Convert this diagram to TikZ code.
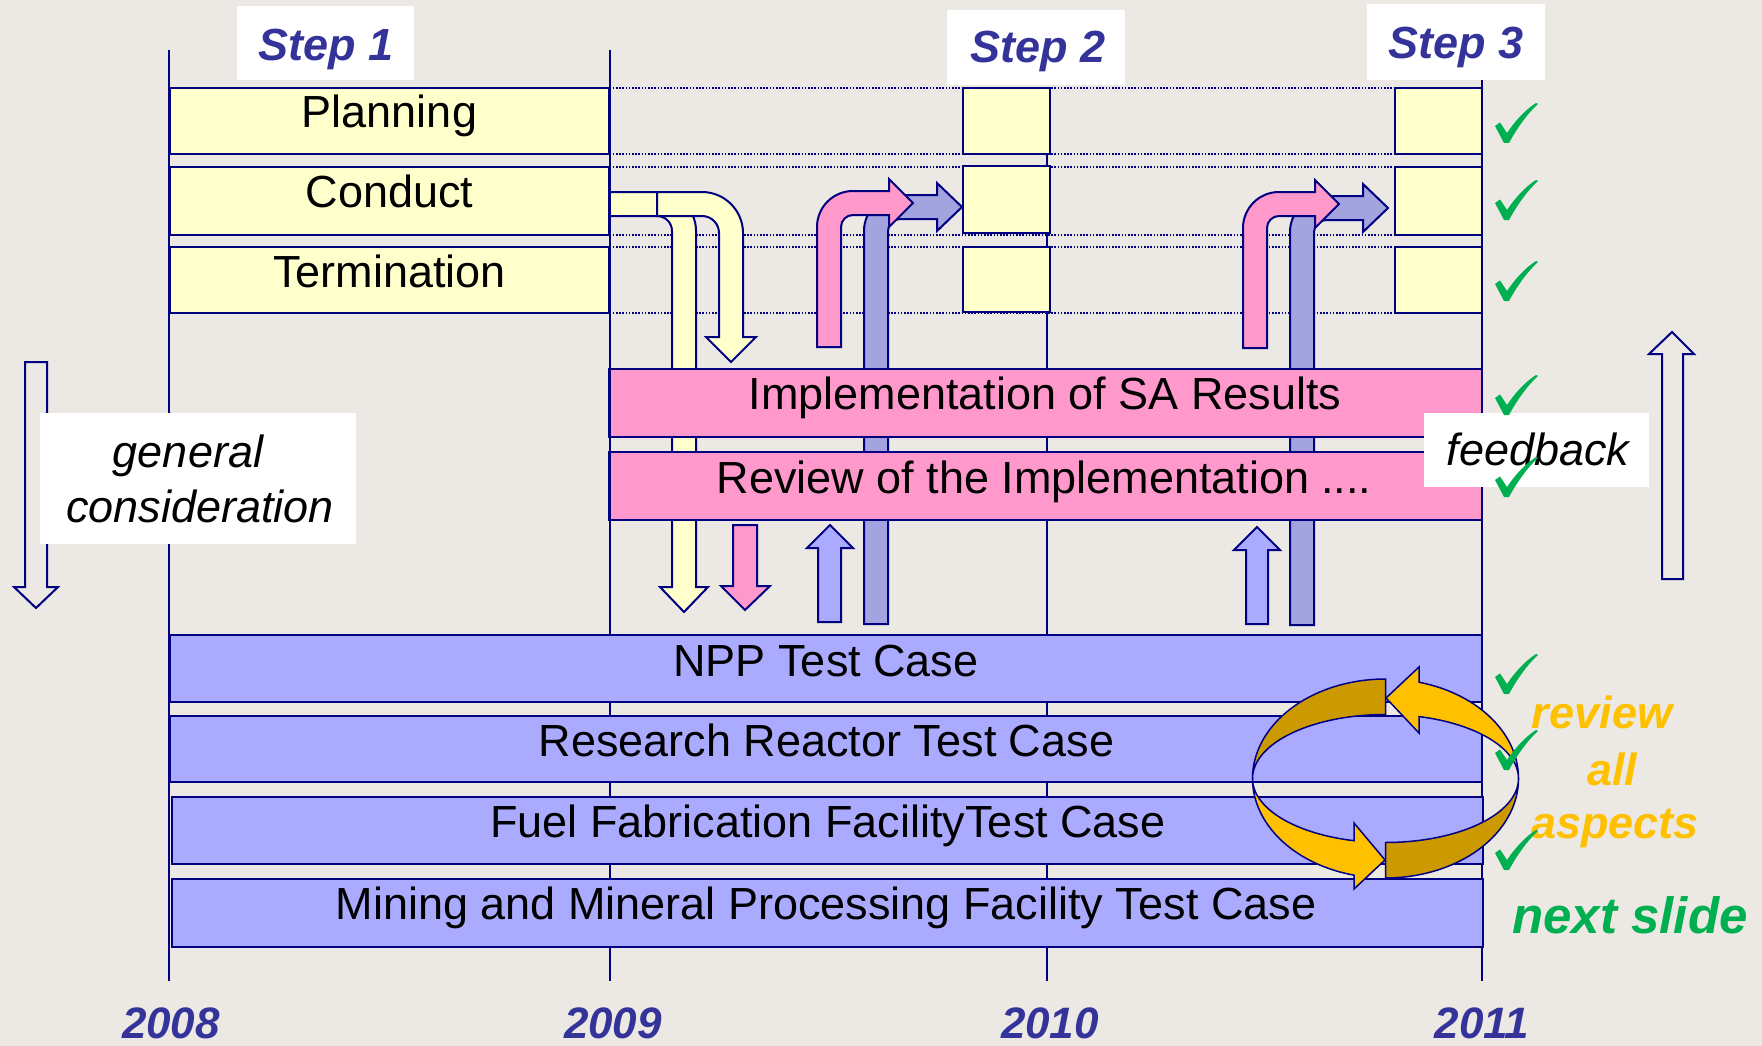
\documentclass[tikz,border=0pt]{standalone}
\usepackage{fontspec}
\setmainfont{Liberation Sans}
\definecolor{navy}{HTML}{000080}
\definecolor{bgc}{HTML}{ECE9E4}
\definecolor{yel}{HTML}{FFFFCC}
\definecolor{pnk}{HTML}{FF99CC}
\definecolor{lav}{HTML}{AAAAFF}
\definecolor{lavd}{HTML}{A3A3E0}
\definecolor{stepblue}{HTML}{333399}
\definecolor{gold}{HTML}{FFC000}
\definecolor{golddk}{HTML}{CC9900}
\definecolor{chkgreen}{HTML}{00B050}
\tikzset{
 yearline/.style={draw=navy, line width=2pt},
 dotline/.style={draw=navy, line width=1.6pt, dash pattern=on 1.6pt off 1.6pt},
 ybox/.style={fill=yel, draw=navy, line width=2.4pt},
 pbox/.style={fill=pnk, draw=navy, line width=2.4pt},
 bluebox/.style={fill=lav, draw=navy, line width=2.4pt},
 yarrow/.style={fill=yel, draw=navy, line width=2pt},
 parrow/.style={fill=pnk, draw=navy, line width=2pt},
 barrow/.style={fill=lav, draw=navy, line width=2pt},
 bdarrow/.style={fill=lavd, draw=navy, line width=2pt},
 hollow/.style={draw=navy, line width=2pt},
 ringlt/.style={fill=gold, draw=navy, line width=1.5pt},
 ringdk/.style={fill=golddk, draw=navy, line width=1.5pt},
 whitebox/.style={fill=white, draw=none},
 txt/.style={inner sep=0pt, anchor=base, font=\fontsize{45}{50}\selectfont},
 ittxt/.style={txt, font=\fontsize{45}{50}\selectfont\itshape},
 steptxt/.style={inner sep=0pt, anchor=base, text=stepblue, font=\fontsize{45}{50}\selectfont\bfseries\itshape},
 yeartxt/.style={inner sep=0pt, anchor=base, text=stepblue, font=\fontsize{44}{50}\selectfont\bfseries\itshape},
 goldtxt/.style={inner sep=0pt, anchor=base, text=gold, font=\fontsize{45}{50}\selectfont\bfseries\itshape},
 greentxt/.style={inner sep=0pt, anchor=base, text=chkgreen, font=\fontsize{51}{56}\selectfont\bfseries\itshape},
 checkmk/.style={fill=chkgreen, draw=none}
}
\newcommand\chkm[2]{\fill[checkmk, shift={(#1,#2)}] (0,23) -- (5,19.5) -- (12,30) .. controls (20,18) and (30,7) .. (41,0) -- (43,1) .. controls (33,10) and (22,25) .. (14,40) -- (9,40) -- cycle;}
\newcommand\bentpair{%
 \filldraw[bdarrow] (864,624) -- (864,231) .. controls (864,211.1) and (880.1,195) .. (900,195) -- (937,195) -- (937,183) -- (962,207) -- (937,231) -- (937,219) -- (900,219) .. controls (893.4,219) and (888,224.4) .. (888,231) -- (888,624) -- cycle;
 \filldraw[parrow] (817,347) -- (817,227) .. controls (817,207.1) and (833.1,191) .. (853,191) -- (889,191) -- (889,179) -- (913,203) -- (889,227) -- (889,215) -- (853,215) .. controls (846.4,215) and (841,220.4) .. (841,227) -- (841,347) -- cycle;}
\begin{document}
\begin{tikzpicture}[x=1pt,y=-1pt]
\fill[bgc] (0,0) rectangle (1762,1046);
\useasboundingbox (0,0) rectangle (1762,1046);
% year lines
\draw[yearline] (168.5,50) -- (168.5,981);
\draw[yearline] (609.5,50) -- (609.5,981);
\draw[yearline] (1047,88) -- (1047,981);
\draw[yearline] (1482,80) -- (1482,981);
% dotted guide lines
\foreach \yy in {88,154,167,235,247,313} \draw[dotline] (609.5,\yy) -- (1395,\yy);
% yellow bent arrows
\filldraw[yarrow] (609.5,192) -- (657,192) .. controls (678.5,192) and (696,209.5) .. (696,231) -- (696,587) -- (708,587) -- (684,612) -- (660,587) -- (672,587) -- (672,231) .. controls (672,222.7) and (665.3,216) .. (657,216) -- (609.5,216) -- cycle;
\filldraw[yarrow] (657,192) -- (702,192) .. controls (724.6,192) and (743,210.4) .. (743,233) -- (743,337) -- (756,337) -- (731,362) -- (706,337) -- (719,337) -- (719,233) .. controls (719,223.6) and (711.4,216) .. (702,216) -- (657,216) -- cycle;
% pink / blue bent arrows
\bentpair
\begin{scope}[shift={(426,1)}]\bentpair\end{scope}
% step 1 rows
\draw[ybox] (169.5,88) rectangle (609.5,154);
\draw[ybox] (169.5,167) rectangle (609.5,235);
\draw[ybox] (169.5,247) rectangle (609.5,313);
% step 2 boxes
\draw[ybox] (963,88) rectangle (1050,154);
\draw[ybox] (963,166) rectangle (1050,233);
\draw[ybox] (963,247) rectangle (1050,312);
% step 3 boxes
\draw[ybox] (1395,88) rectangle (1482,154);
\draw[ybox] (1395,167) rectangle (1482,235);
\draw[ybox] (1395,247) rectangle (1482,313);
% pink boxes
\draw[pbox] (609.5,369) rectangle (1482,437);
\draw[pbox] (609.5,452) rectangle (1482,520);
% test case boxes
\draw[bluebox] (169.5,635) rectangle (1482,702);
\draw[bluebox] (169.5,716) rectangle (1482,782);
\draw[bluebox] (172,797) rectangle (1483,864);
\draw[bluebox] (172,879) rectangle (1483,947);
% small vertical arrows
\filldraw[parrow] (733,525) -- (757,525) -- (757,586) -- (770,586) -- (745,610) -- (721,586) -- (733,586) -- cycle;
\filldraw[barrow] (818,622) -- (818,548) -- (807,548) -- (830,525) -- (853,548) -- (841,548) -- (841,622) -- cycle;
\filldraw[barrow] (1246,624) -- (1246,550) -- (1234,550) -- (1257,527) -- (1280,550) -- (1268,550) -- (1268,624) -- cycle;
% hollow side arrows
\draw[hollow] (25,362) -- (47,362) -- (47,587) -- (58,587) -- (36,608) -- (14,587) -- (25,587) -- cycle;
\draw[hollow] (1662,579) -- (1662,354) -- (1649,354) -- (1672,332) -- (1694,354) -- (1683,354) -- (1683,579) -- cycle;
% review cycle ring
\filldraw[ringdk] plot[domain=180:270,samples=40,variable=\t] ({1385.5+133*cos(\t)},{778.5+99.5*sin(\t)}) -- plot[domain=270:180,samples=40,variable=\t] ({1385.5+133*cos(\t)},{778.5+64*sin(\t)}) -- cycle;
\filldraw[ringlt] (1419,667) -- (1386,698) -- (1419,733) -- plot[domain=284.6:360,samples=40,variable=\t] ({1385.5+133*cos(\t)},{778.5+64*sin(\t)}) -- plot[domain=360:284.6,samples=40,variable=\t] ({1385.5+133*cos(\t)},{778.5+99.5*sin(\t)}) -- cycle;
\filldraw[ringlt] plot[domain=180:103.7,samples=40,variable=\t] ({1385.5+133*cos(\t)},{778.5+99.5*sin(\t)}) -- (1354,889) -- (1385,860) -- (1354,823) -- plot[domain=103.7:180,samples=40,variable=\t] ({1385.5+133*cos(\t)},{778.5+64*sin(\t)}) -- cycle;
\filldraw[ringdk] plot[domain=90:0,samples=40,variable=\t] ({1385.5+133*cos(\t)},{778.5+99.5*sin(\t)}) -- plot[domain=0:90,samples=40,variable=\t] ({1385.5+133*cos(\t)},{778.5+64*sin(\t)}) -- cycle;
% white label boxes
\fill[whitebox] (237,6) rectangle (414,80);
\fill[whitebox] (947,10) rectangle (1125,85);
\fill[whitebox] (1367,4) rectangle (1545,80);
\fill[whitebox] (40,413) rectangle (356,544);
\fill[whitebox] (1424,413) rectangle (1649,487);
% texts
\node[steptxt] (s1) at (326,61) {Step 1};
\node[steptxt] (s2) at (1038,63) {Step 2};
\node[steptxt] (s3) at (1456,59) {Step 3};
\node[txt] (tplan) at (389.5,128) {Planning};
\node[txt] (tcond) at (389.5,207) {Conduct};
\node[txt] (tterm) at (389.5,287) {Termination};
\node[txt] (timpl) at (1045,409) {Implementation of SA Results};
\node[txt] (trev) at (1044,493) {Review of the Implementation\hspace{12pt}....};
\node[txt] (tnpp) at (826,676) {NPP Test Case};
\node[txt] (trr) at (826.5,756) {Research Reactor  Test Case};
\node[txt] (tfuel) at (828,837) {Fuel Fabrication  FacilityTest Case};
\node[txt] (tmin) at (826,919) {Mining and Mineral Processing Facility Test Case};
\node[ittxt] (tgen) at (188,467) {general};
\node[ittxt] (tcons) at (200,522) {consideration};
\node[ittxt] (tfb) at (1538,465) {feedback};
\node[goldtxt] (trv) at (1602,728) {review};
\node[goldtxt] (tall) at (1612,785) {all};
\node[goldtxt] (tasp) at (1615,838) {aspects};
\node[greentxt] (tnext) at (1630,933) {next slide};
\node[yeartxt] (y8) at (171,1038) {2008};
\node[yeartxt] (y9) at (613,1038) {2009};
\node[yeartxt] (y10) at (1050,1038) {2010};
\node[yeartxt] (y11) at (1482,1038) {2011};
% check marks
\chkm{1495}{103}
\chkm{1495}{180}
\chkm{1495}{261}
\chkm{1495}{375}
\chkm{1495}{457}
\chkm{1495}{654}
\chkm{1495}{730}
\chkm{1495}{830}
\end{tikzpicture}
\end{document}
